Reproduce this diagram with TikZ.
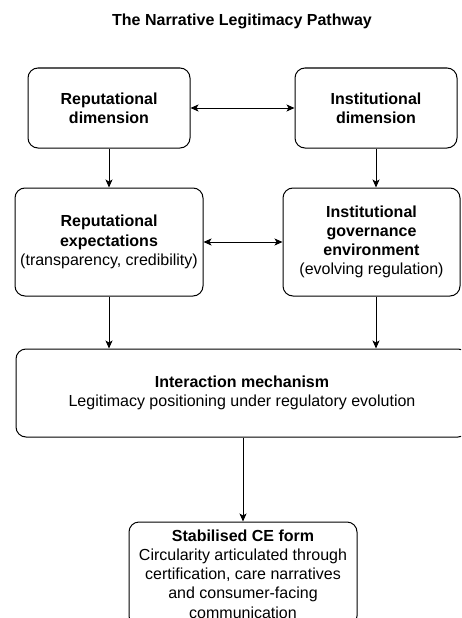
\documentclass[tikz,border=0pt]{standalone}
\usepackage{fontspec}
\setmainfont{Liberation Sans}
\usetikzlibrary{arrows.meta}
\begin{document}
\begin{tikzpicture}[x=1pt,y=-1pt,
  box/.style={draw, rounded corners=10pt, line width=1pt, align=center,
    font=\fontsize{16}{19.2}\selectfont, inner sep=0pt},
  tip/.tip={Stealth[length=8pt,width=7pt,inset=2pt]},
  arr/.style={-tip, line width=1pt},
  darr/.style={tip-tip, line width=1pt}]
\useasboundingbox (0,0) rectangle (461,618);
\fill[white] (0,0) rectangle (461,618);
\clip (0,0) rectangle (461,618);
\node[font=\bfseries\fontsize{16}{19.2}\selectfont] (title) at (242,21) {The Narrative Legitimacy Pathway};
\node[box, minimum width=162pt, minimum height=80pt] (rd) at (109,108)
  {\textbf{Reputational}\\\textbf{dimension}};
\node[box, minimum width=162pt, minimum height=80pt] (id) at (376,108)
  {\textbf{Institutional}\\\textbf{dimension}};
\node[box, minimum width=188pt, minimum height=108pt] (re) at (109,242)
  {\textbf{Reputational}\\\textbf{expectations}\\(transparency, credibility)};
\node[box, minimum width=177pt, minimum height=108pt] (ig) at (371.5,242)
  {\textbf{Institutional}\\\textbf{governance}\\\textbf{environment}\\(evolving regulation)};
\node[box, minimum width=452pt, minimum height=88pt] (im) at (242,393)
  {\textbf{Interaction mechanism}\\Legitimacy positioning under regulatory evolution};
\node[box, minimum width=228pt, minimum height=104pt] (ce) at (243,574)
  {\textbf{Stabilised CE form}\\Circularity articulated through\\certification, care narratives\\and consumer-facing\\communication};
\draw[darr] (rd) -- (id);
\draw[darr] (re) -- (ig);
\draw[arr] (rd) -- (re);
\draw[arr] (id.south) -- (ig.north -| id.south);
\draw[arr] (re.south) -- (im.north -| re.south);
\draw[arr] (ig.south -| id.south) -- (im.north -| id.south);
\draw[arr] (im.south -| ce.north) -- (ce.north);
\end{tikzpicture}
\end{document}
